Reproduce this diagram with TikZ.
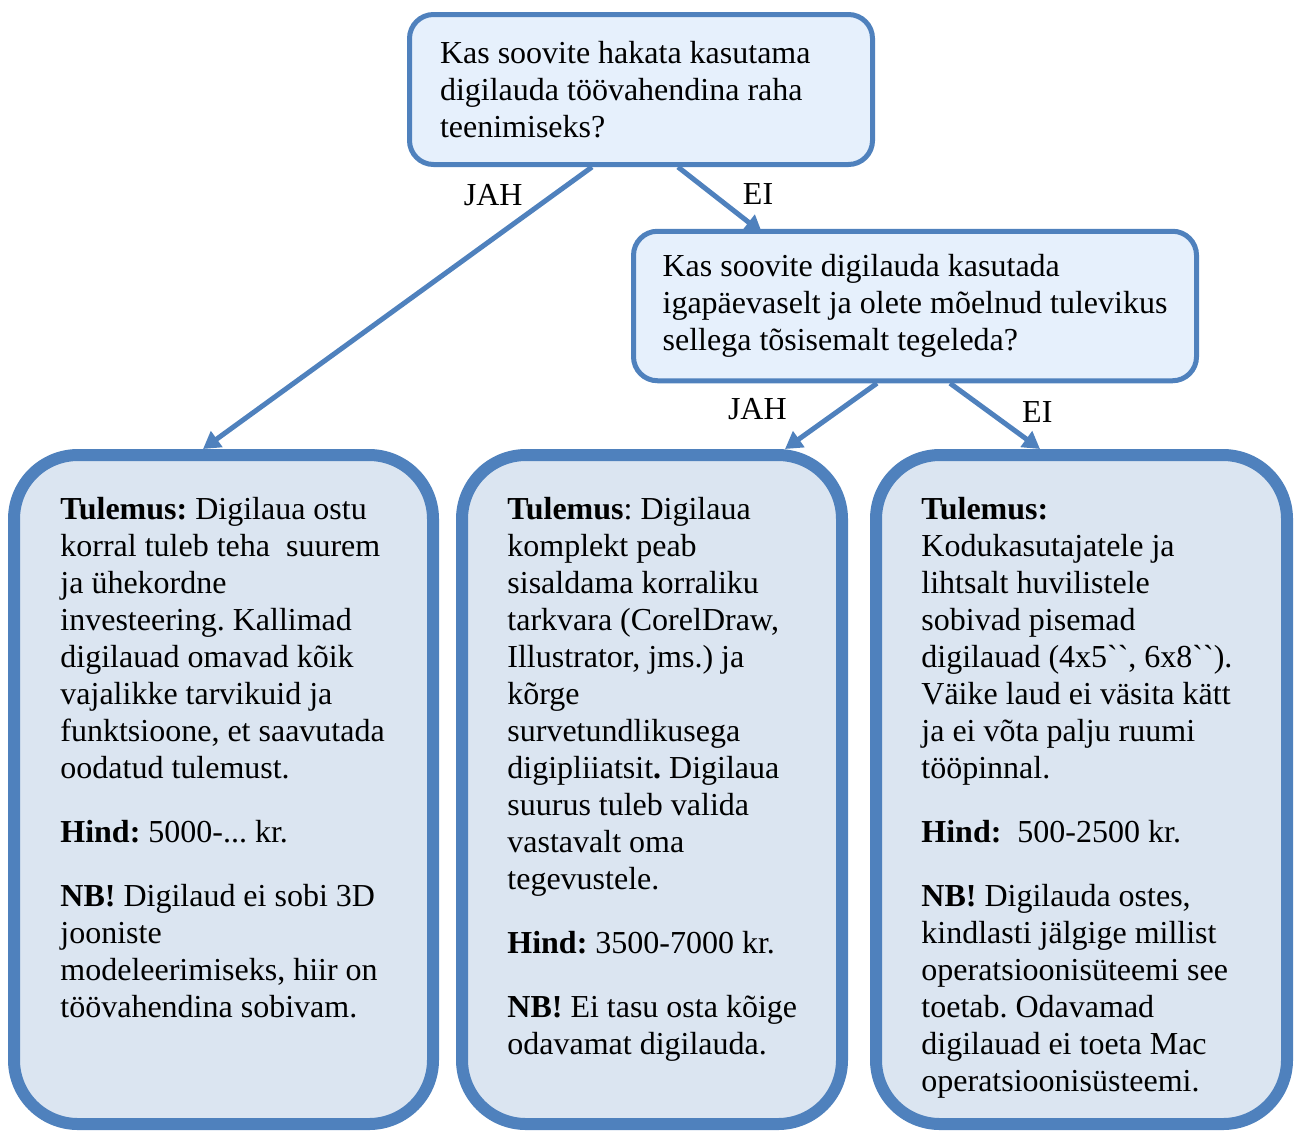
\documentclass[tikz,border=0pt]{standalone}
\usepackage{fontspec}
\setmainfont{Liberation Serif}
\usetikzlibrary{positioning, arrows.meta, calc}

\definecolor{boxblue}{HTML}{4F81BD}
\definecolor{askfill}{HTML}{E6F0FC}
\definecolor{resfill}{HTML}{DBE5F1}
\newcommand{\wordtext}{\fontsize{16pt}{18.5pt}\selectfont\frenchspacing}
\newcommand{\grv}{\textasciigrave\textasciigrave}

\begin{document}
\begin{tikzpicture}[x=0.5pt, y=-0.5pt, >={Triangle[length=8.5pt, width=9.5pt]},
    ask/.style={draw=boxblue, fill=askfill, line width=2.5pt, rounded corners=12pt,
      inner sep=0pt, align=flush left, font=\wordtext},
    result/.style={draw=boxblue, fill=resfill, line width=6pt, rounded corners=32pt,
      minimum height=334.5pt},
    restext/.style={anchor=north west, inner sep=0pt, align=left, font=\wordtext},
    answer/.style={inner sep=0pt, font=\wordtext},
    link/.style={->, draw=boxblue, line width=2.5pt}]
  \useasboundingbox (0,0) rectangle (1294,1131);

  % questions
  \node[ask, minimum width=231.5pt, minimum height=75pt, text width=201pt] (q1) at (641,89.5) {
    Kas soovite hakata kasutama\\ digilauda töövahendina raha\\ teenimiseks?
  };
  \node[ask, minimum width=281.5pt, minimum height=74.75pt] (q2) at (915,306) {
    Kas soovite digilauda kasutada\\ igapäevaselt ja olete mõelnud tulevikus\\ sellega tõsisemalt tegeleda?
  };

  % results
  \node[result, minimum width=209.5pt] (r1) at (223.5,789.5) {};
  \node[result, minimum width=190pt] (r2) at (652,789.5) {};
  \node[result, minimum width=205.5pt] (r3) at (1081.5,789.5) {};

  \node[restext] (t1) at (60,497) {
    \textbf{Tulemus:} Digilaua ostu\\ korral tuleb teha\ \ suurem\\ ja ühekordne\\
    investeering. Kallimad\\ digilauad omavad kõik\\ vajalikke tarvikuid ja\\
    funktsioone, et saavutada\\ oodatud tulemust.\\[13.5pt]
    \textbf{Hind:} 5000-... kr.\\[13.5pt]
    \textbf{NB!} Digilaud ei sobi 3D\\ jooniste\\ modeleerimiseks, hiir on\\ töövahendina sobivam.
  };
  \node[restext] (t2) at (507,497) {
    \textbf{Tulemus}: Digilaua\\ komplekt peab\\ sisaldama korraliku\\ tarkvara (CorelDraw,\\
    Illustrator, jms.) ja\\ kõrge\\ survetundlikusega\\ digipliiatsit\textbf{.} Digilaua\\
    suurus tuleb valida\\ vastavalt oma\\ tegevustele.\\[13.5pt]
    \textbf{Hind:} 3500-7000 kr.\\[13.5pt]
    \textbf{NB!} Ei tasu osta kõige\\ odavamat digilauda.
  };
  \node[restext] (t3) at (921,497) {
    \textbf{Tulemus:}\\ Kodukasutajatele ja\\ lihtsalt huvilistele\\ sobivad pisemad\\
    digilauad (4x5\grv, 6x8\grv).\\ Väike laud ei väsita kätt\\ ja ei võta palju ruumi\\
    tööpinnal.\\[13.5pt]
    \textbf{Hind:}\ \ 500-2500 kr.\\[13.5pt]
    \textbf{NB!} Digilauda ostes,\\ kindlasti jälgige millist\\ operatsioonisüteemi see\\
    toetab. Odavamad\\ digilauad ei toeta Mac\\ operatsioonisüsteemi.
  };

  \draw[link] ($(q1.south)+(-49,0)$) -- node[answer, pos=0.1, left=14pt] {JAH} ($(r1.north)+(-20.5,0)$);
  \draw[link] ($(q1.south)+(37,0)$) -- node[answer, pos=0.41, right=14pt] {EI} ($(q2.north)+(-153,4)$);
  \draw[link] ($(q2.south)+(-38,0)$) -- node[answer, pos=0.4, left=25.5pt] {JAH} ($(r2.north)+(133,0)$);
  \draw[link] ($(q2.south)+(35,0)$) -- node[answer, pos=0.43, right=15.5pt] {EI} ($(r3.north)+(-41.5,0)$);
\end{tikzpicture}
\end{document}
